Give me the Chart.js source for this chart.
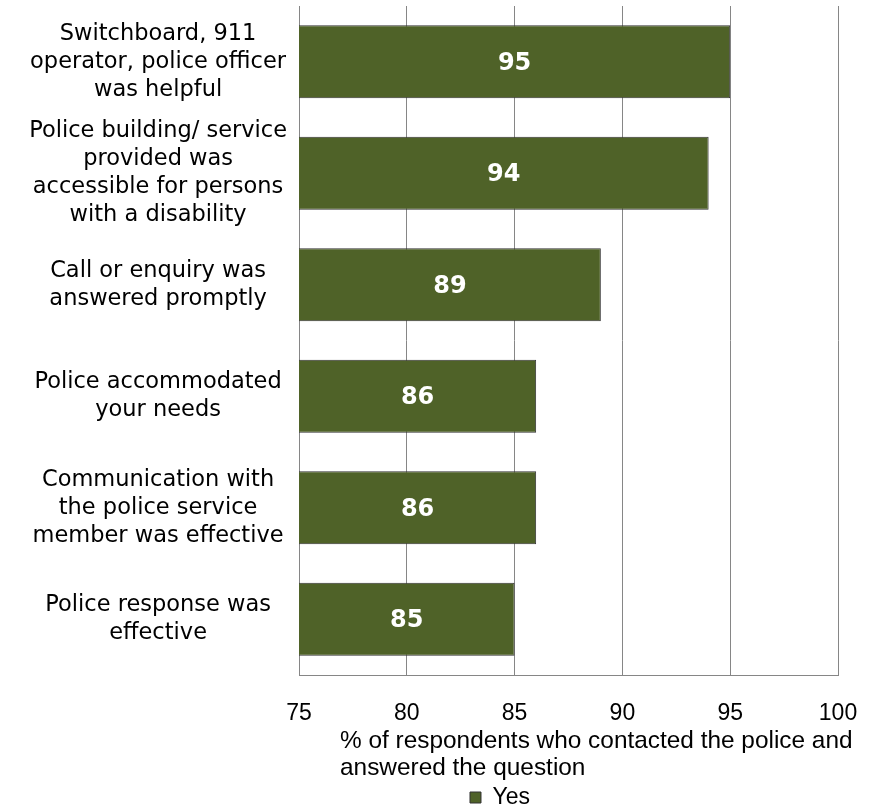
<!DOCTYPE html>
<html>
<head>
<meta charset="utf-8">
<script src="https://cdn.jsdelivr.net/npm/chart.js@4"></script>
<style>
  html, body { margin: 0; padding: 0; background: #fff; }
  canvas { display: block; }
</style>
</head>
<body>
<canvas id="chart" width="869" height="807"></canvas>
<script>
// categories, already wrapped the way the original shows them
const categories = [
    ['Switchboard, 911', 'operator, police officer', 'was helpful'],
    ['Police building/ service', 'provided was', 'accessible for persons', 'with a disability'],
    ['Call or enquiry was', 'answered promptly'],
    ['Police accommodated', 'your needs'],
    ['Communication with', 'the police service', 'member was effective'],
    ['Police response was', 'effective'],
];
const yesValues = [95, 94, 89, 86, 86, 85];
const xTicks = [75, 80, 85, 90, 95, 100];
const seriesName = 'Yes';
const axisTitle = ['% of respondents who contacted the police and', 'answered the question'];

const GREEN = '#4f6228';
const GRID = '#868686';
const SANS = '"Liberation Sans", Arial, sans-serif';

// white numbers in the middle of each bar
// (bar.base sits at value 0, way off to the left, so clamp it to the axis)
const barLabels = {
    id: 'barLabels',
    afterDatasetsDraw(chart) {
        const ctx = chart.ctx;
        const meta = chart.getDatasetMeta(0);
        const left = chart.chartArea.left;
        ctx.save();
        ctx.fillStyle = '#ffffff';
        ctx.font = 'bold 24px "DejaVu Sans", Verdana, sans-serif';
        ctx.textAlign = 'center';
        ctx.textBaseline = 'middle';
        meta.data.forEach((bar, i) => {
            const p = bar.getProps(['x', 'y', 'base'], true);
            const start = Math.max(p.base, left);
            ctx.fillText(String(yesValues[i]), (p.x + start) / 2, p.y + 2);
        });
        ctx.restore();
    },
};

// x axis title with left aligned lines, and the legend nudged into place
const xTitle = {
    id: 'xTitle',
    afterLayout(chart) {
        const lg = chart.legend;
        if (lg) {
            lg.left += 81; lg.right += 81;
            lg.top += 12; lg.bottom += 12;
        }
    },
    afterDraw(chart) {
        const ctx = chart.ctx;
        const x = chart.chartArea.left + 41;
        let y = chart.scales.x.top + 66;
        ctx.save();
        ctx.fillStyle = '#000';
        ctx.font = '24.4px ' + SANS;
        ctx.textAlign = 'left';
        ctx.textBaseline = 'middle';
        axisTitle.forEach(line => {
            ctx.fillText(line, x, y);
            y += 27;
        });
        ctx.restore();
    },
};

new Chart(document.getElementById('chart'), {
    type: 'bar',
    data: {
        labels: categories,
        datasets: [{
            label: seriesName,
            data: yesValues,
            backgroundColor: GREEN,
            borderColor: '#333333',
            borderWidth: 1,
            borderSkipped: false,
            barPercentage: 0.655,
            categoryPercentage: 1,
        }],
    },
    options: {
        indexAxis: 'y',
        responsive: false,
        animation: false,
        layout: { padding: { left: 0, right: 31, top: 6, bottom: 0 } },
        plugins: {
            legend: {
                position: 'bottom',
                labels: {
                    color: '#000',
                    font: { family: SANS, size: 23 },
                    boxWidth: 11,
                    boxHeight: 11,
                    padding: 2,
                },
            },
            tooltip: { enabled: false },
        },
        scales: {
            x: {
                min: 75,
                max: 100,
                afterBuildTicks(scale) {
                    scale.ticks = xTicks.map(v => ({ value: v }));
                },
                afterFit(scale) {
                    scale.height = 97;
                    scale.paddingLeft = 0;
                    scale.paddingRight = 0;
                },
                grid: { color: GRID, drawTicks: false },
                border: { display: true, color: GRID },
                ticks: {
                    color: '#000',
                    padding: 25,
                    maxRotation: 0,
                    font: { family: SANS, size: 23 },
                },
            },
            y: {
                afterFit(scale) {
                    scale.width = 299;
                    scale.paddingTop = 0;
                    scale.paddingBottom = 0;
                },
                grid: { display: false, drawTicks: false },
                border: { display: true, color: GRID },
                ticks: {
                    color: '#000',
                    autoSkip: false,
                    crossAlign: 'center',
                    padding: 12,
                    font: { family: '"DejaVu Sans", Verdana, sans-serif', size: 22.5, lineHeight: 1.244 },
                },
            },
        },
    },
    plugins: [barLabels, xTitle],
});
</script>
</body>
</html>
